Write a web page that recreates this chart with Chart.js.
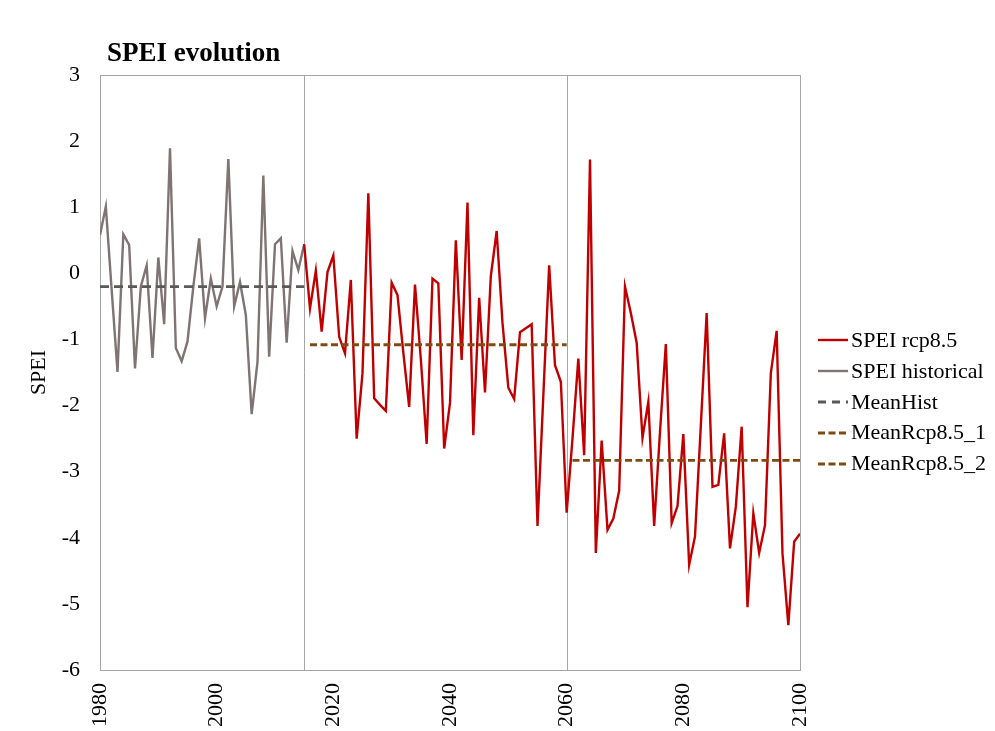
<!DOCTYPE html>
<html>
<head>
<meta charset="utf-8">
<title>SPEI evolution</title>
<script src="https://cdn.jsdelivr.net/npm/chart.js@4"></script>
<style>
  body { margin: 0; background: #fff; }
  #wrap { position: relative; width: 995px; height: 731px; font-family: "Liberation Serif", "Times New Roman", serif; }
  #title { position: absolute; left: 107px; top: 39px; font-size: 27px; font-weight: bold; line-height: 1; }
  #legend { position: absolute; left: 817px; top: 325px; font-size: 22px; line-height: 30.8px; }
  #legend div { display: flex; align-items: center; white-space: nowrap; }
  #legend svg { margin-right: 2px; }
</style>
</head>
<body>
<div id="wrap">
  <canvas id="speiChart" width="995" height="731"></canvas>
  <div id="title">SPEI evolution</div>
  <div id="legend"></div>
</div>
<script>
// first year of each series, values follow year by year
const histStart = 1980;
const rcpStart = 2015;

const speiHistorical = [
  0.58, 1.01, -0.25, -1.49, 0.59, 0.43, -1.44, -0.2, 0.12, -1.28,
  0.24, -0.77, 1.89, -1.13, -1.33, -1.03, -0.2, 0.53, -0.68, -0.08,
  -0.5, -0.2, 1.73, -0.5, -0.13, -0.63, -2.13, -1.34, 1.48, -1.26,
  0.44, 0.53, -1.05, 0.34, 0.05, 0.44
];

const speiRcp85 = [
  0.44, -0.53, 0.04, -0.88, 0.02, 0.27, -0.96, -1.21, -0.1, -2.5,
  -1.51, 1.21, -1.89, -1.99, -2.08, -0.14, -0.33, -1.2, -2.02, -0.17,
  -1.3, -2.58, -0.08, -0.15, -2.65, -1.96, 0.5, -1.31, 1.07, -2.45,
  -0.37, -1.8, -0.04, 0.64, -0.75, -1.73, -1.9, -0.89, -0.83, -0.77,
  -3.82, -1.85, 0.12, -1.39, -1.64, -3.62, -2.5, -1.29, -2.75, 1.72,
  -4.23, -2.53, -3.88, -3.71, -3.29, -0.2, -0.6, -1.05, -2.49, -1.94,
  -3.82, -2.4, -1.07, -3.78, -3.52, -2.43, -4.41, -3.98, -2.3, -0.6,
  -3.23, -3.2, -2.42, -4.16, -3.53, -2.32, -5.05, -3.63, -4.23, -3.81,
  -1.51, -0.87, -4.24, -5.32, -4.06, -3.94
];

// period means: [from, to, value]
const meanHist = [1980, 2015, -0.2];
const meanRcp1 = [2016, 2060, -1.08];
const meanRcp2 = [2061, 2100, -2.83];

// period separators
const periodBreaks = [2015, 2060];

const xTicks = [1980, 2000, 2020, 2040, 2060, 2080, 2100];
const yMin = -6, yMax = 3;

const toPoints = (start, arr) => arr.map((v, i) => ({ x: start + i, y: v }));
const meanLine = m => [{ x: m[0], y: m[2] }, { x: m[1], y: m[2] }];

const series = [
  { label: 'SPEI rcp8.5', data: toPoints(rcpStart, speiRcp85), color: '#c00000', width: 2.4, dash: [], legendDash: [], order: 2 },
  { label: 'SPEI historical', data: toPoints(histStart, speiHistorical), color: '#7f7373', width: 2.4, dash: [], legendDash: [], order: 2 },
  { label: 'MeanHist', data: meanLine(meanHist), color: '#595959', width: 2.8, dash: [9, 5], legendDash: [8, 6], order: 1 },
  { label: 'MeanRcp8.5_1', data: meanLine(meanRcp1), color: '#7f4b13', width: 2.8, dash: [7, 3.5], legendDash: [7, 3.5], order: 1 },
  { label: 'MeanRcp8.5_2', data: meanLine(meanRcp2), color: '#7f4b13', width: 2.8, dash: [7, 3.5], legendDash: [7, 3.5], order: 1 }
];

const FONT = '"Liberation Serif", "Times New Roman", serif';

// box round the plot plus the thin period separators
const frame = {
  id: 'frame',
  beforeDatasetsDraw(chart) {
    const { ctx, chartArea: a, scales: { x } } = chart;
    ctx.save();
    ctx.strokeStyle = '#a6a6a6';
    ctx.lineWidth = 1;
    ctx.strokeRect(a.left + 0.5, a.top + 0.5, a.right - a.left, a.bottom - a.top);
    periodBreaks.forEach(yr => {
      const px = Math.round(x.getPixelForValue(yr)) + 0.5;
      ctx.beginPath();
      ctx.moveTo(px, a.top);
      ctx.lineTo(px, a.bottom);
      ctx.stroke();
    });
    ctx.restore();
  }
};

new Chart(document.getElementById('speiChart'), {
  type: 'line',
  data: {
    datasets: series.map(s => ({
      label: s.label,
      data: s.data,
      borderColor: s.color,
      borderWidth: s.width,
      borderDash: s.dash,
      pointRadius: 0,
      tension: 0,
      fill: false,
      order: s.order
    }))
  },
  options: {
    responsive: false,
    animation: false,
    layout: { padding: { top: 75, right: 195, left: 0, bottom: 0 } },
    plugins: { legend: { display: false }, tooltip: { enabled: false } },
    scales: {
      x: {
        type: 'linear',
        min: xTicks[0],
        max: xTicks[xTicks.length - 1],
        afterBuildTicks: scale => { scale.ticks = xTicks.map(v => ({ value: v })); },
        afterFit: scale => { scale.height = 61; },
        grid: { display: false },
        border: { display: false },
        ticks: {
          color: '#000',
          font: { family: FONT, size: 22 },
          minRotation: 90,
          maxRotation: 90,
          padding: 5,
          callback: v => String(v)
        }
      },
      y: {
        min: yMin,
        max: yMax,
        afterFit: scale => { scale.width = 100; },
        grid: { display: false },
        border: { display: false },
        ticks: {
          stepSize: 1,
          color: '#000',
          font: { family: FONT, size: 22 },
          padding: 12
        },
        title: {
          display: true,
          text: 'SPEI',
          color: '#000',
          font: { family: FONT, size: 22 },
          padding: { top: 26, bottom: 0 }
        }
      }
    }
  },
  plugins: [frame]
});

// legend with line samples
const legend = document.getElementById('legend');
series.forEach(s => {
  const row = document.createElement('div');
  const dash = s.legendDash.length ? `stroke-dasharray="${s.legendDash.join(' ')}"` : '';
  row.innerHTML = `<svg width="32" height="10"><line x1="1" y1="5" x2="31" y2="5" stroke="${s.color}" stroke-width="${s.width}" ${dash}/></svg><span>${s.label}</span>`;
  legend.appendChild(row);
});
</script>
</body>
</html>
